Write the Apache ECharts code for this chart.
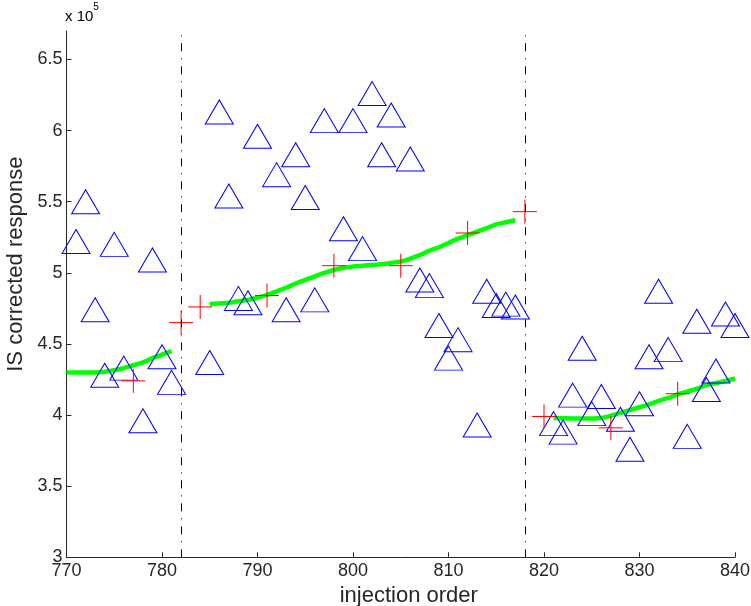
<!DOCTYPE html>
<html>
<head>
<meta charset="utf-8">
<script src="https://cdn.jsdelivr.net/npm/echarts@6/dist/echarts.min.js"></script>
<style>
html,body{margin:0;padding:0;background:#fff;}
#chart{width:751px;height:606px;}
</style>
</head>
<body>
<div id="chart"></div>
<script>
// ---- data (response values in units of 1e5) ----
const sampleX = [771,772,773,774,775,776,778,779,780,781,
  785,786,787,788,789,790,792,793,794,795,796,797,799,800,801,802,803,804,806,807,808,809,810,811,813,814,815,816,817,
  821,822,823,824,825,826,828,829,830,831,832,833,835,836,837,838,839,840];
const sampleY = [5.22,5.50,4.74,4.28,5.20,4.33,3.96,5.09,4.41,4.23,
  4.37,6.13,5.54,4.82,4.79,5.96,5.69,4.74,5.83,5.53,4.81,6.07,5.31,6.07,5.17,6.26,5.83,6.11,5.80,4.95,4.91,4.63,4.40,4.53,3.93,4.87,4.77,4.78,4.76,
  3.94,3.88,4.14,4.47,4.01,4.13,3.97,3.76,4.08,4.41,4.87,4.46,3.85,4.66,4.18,4.31,4.71,4.63];
const qcX = [777,782,784,791,798,805,812,818,820,827,834];
const qcY = [4.24,4.65,4.76,4.84,5.05,5.05,5.28,5.43,3.99,3.91,4.15];
const fit1X = [770,771,772,773,774,775,776,777,778,779,780,781];
const fit1Y = [4.30,4.30,4.30,4.30,4.305,4.315,4.33,4.35,4.37,4.40,4.425,4.45];
const fit2X = [785,786,787,788,789,790,791,792,793,794,795,796,797,798,799,800,801,802,803,804,805,806,807,808,809,810,811,812,813,814,815,816,817];
const fit2Y = [4.78,4.785,4.79,4.80,4.81,4.825,4.845,4.87,4.895,4.925,4.95,4.975,5.00,5.02,5.035,5.045,5.05,5.055,5.06,5.07,5.08,5.10,5.125,5.155,5.18,5.21,5.24,5.265,5.29,5.315,5.34,5.355,5.37];
const fit3X = [821,822,823,824,825,826,827,828,829,830,831,832,833,834,835,836,837,838,839,840];
const fit3Y = [3.98,3.978,3.976,3.975,3.976,3.98,3.995,4.015,4.035,4.055,4.075,4.10,4.12,4.145,4.165,4.185,4.21,4.225,4.24,4.257];
const batchBoundaries = [782, 818];
const yTicks = [3,3.5,4,4.5,5,5.5,6,6.5];
const xTicks = [770,780,790,800,810,820,830,840];
const SCALE = 1e5;

const zip = (xs, ys) => xs.map((x, i) => [x, ys[i] * SCALE]);
const textColor = '#262626';

const chart = echarts.init(document.getElementById('chart'), null, {renderer: 'canvas'});
const fitLine = (xs, ys) => ({
  type: 'line', data: zip(xs, ys), symbol: 'none', smooth: 0.5, z: 2,
  lineStyle: {color: '#00ff00', width: 4.5}, silent: true, animation: false
});
chart.setOption({
  animation: false,
  grid: {left: 66.5, right: 16, top: 31, bottom: 48.7, containLabel: false, outerBoundsMode: 'none'},
  xAxis: {
    type: 'value', min: 770, max: 840, interval: 10,
    name: 'injection order', nameLocation: 'middle', nameGap: 22,
    nameTextStyle: {fontFamily: 'Liberation Sans', fontSize: 22, color: textColor, padding: [0,0,0,16]},
    axisLine: {show: true, onZero: false, lineStyle: {color: textColor, width: 1}},
    axisTick: {show: true, inside: true, length: 5, customValues: xTicks, lineStyle: {color: textColor}},
    axisLabel: {fontFamily: 'Liberation Sans', fontSize: 18, color: textColor, margin: 5, customValues: xTicks},
    splitLine: {show: false}
  },
  yAxis: {
    type: 'value', min: 3 * SCALE, max: 6.7 * SCALE, interval: 0.5 * SCALE,
    name: 'IS corrected response', nameLocation: 'middle', nameGap: 31, nameRotate: 90,
    nameTextStyle: {fontFamily: 'Liberation Sans', fontSize: 22, color: textColor, padding: [0,0,0,60]},
    axisLine: {show: true, onZero: false, lineStyle: {color: textColor, width: 1}},
    axisTick: {show: true, inside: true, length: 5, customValues: yTicks.map(v => v * SCALE), lineStyle: {color: textColor}},
    axisLabel: {fontFamily: 'Liberation Sans', fontSize: 18, color: textColor, margin: 4,
      customValues: yTicks.map(v => v * SCALE),
      formatter: v => String(Math.round(v / SCALE * 10) / 10)},
    splitLine: {show: false}
  },
  graphic: [{
    type: 'text', left: 65, top: 2,
    style: {
      text: '{a|x 10}{s|5}',
      rich: {
        a: {fontFamily: 'Liberation Sans', fontSize: 15, color: textColor, verticalAlign: 'bottom', lineHeight: 22},
        s: {fontFamily: 'Liberation Sans', fontSize: 10, color: textColor, verticalAlign: 'top', lineHeight: 22}
      }
    }
  }],
  series: [
    {
      type: 'line', data: [], silent: true, z: 1,
      markLine: {
        silent: true, symbol: 'none', animation: false,
        label: {show: false},
        lineStyle: {color: '#000', width: 1, type: [8,7,1,7]},
        emphasis: {disabled: true},
        data: batchBoundaries.map(x => ({xAxis: x}))
      }
    },
    fitLine(fit1X, fit1Y),
    fitLine(fit2X, fit2Y),
    fitLine(fit3X, fit3Y),
    {
      type: 'scatter', data: zip(sampleX, sampleY), symbol: 'triangle', symbolSize: [28, 24], z: 3,
      itemStyle: {color: 'transparent', borderColor: '#0000ff', borderWidth: 1, opacity: 1},
      emphasis: {disabled: true}, silent: true
    },
    {
      type: 'scatter', data: zip(qcX, qcY), symbol: 'path://M0,12L24,12M12,0L12,24', symbolSize: [24, 24], z: 4,
      itemStyle: {color: 'transparent', borderColor: '#ff0000', borderWidth: 1, opacity: 1},
      emphasis: {disabled: true}, silent: true
    }
  ]
});
</script>
</body>
</html>
